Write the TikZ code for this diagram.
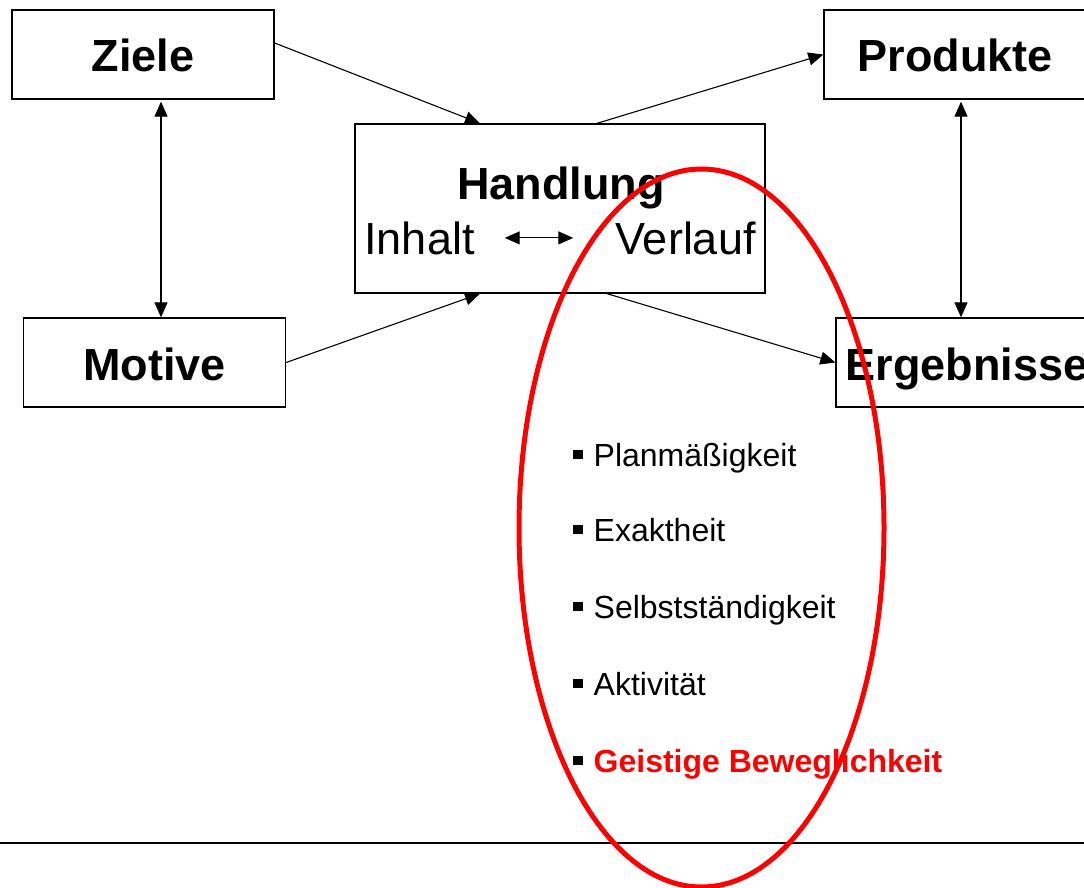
\documentclass[tikz,border=0pt]{standalone}
\usepackage{fontspec}
\setmainfont{Liberation Sans}
\usetikzlibrary{arrows.meta,calc}
\newcommand{\bigbold}{\fontsize{45pt}{54pt}\selectfont\bfseries}
\newcommand{\bigreg}{\fontsize{45pt}{54pt}\selectfont}
\newcommand{\bulfont}{\fontsize{32pt}{38pt}\selectfont}
\newcommand{\bul}{\raisebox{7pt}{\rule{9.5pt}{9.5pt}}\hspace{11pt}}
\definecolor{pptred}{RGB}{255,0,0}
\tikzset{
  box/.style={draw, line width=1.3pt, minimum width=262pt, minimum height=89pt,
    inner sep=0pt, text height=35pt, text depth=0pt, font=\bigbold},
  hbox/.style={draw, line width=1.3pt, minimum width=410pt, minimum height=169pt, inner sep=0pt},
  txt/.style={inner sep=0pt, anchor=base},
  item/.style={inner sep=0pt, anchor=base west, font=\bulfont},
  conn/.style={line width=1.1pt, -{Triangle[length=15pt,width=13pt]}},
  dconn/.style={line width=1.1pt, {Triangle[length=15pt,width=13pt]}-{Triangle[length=15pt,width=13pt]}},
}
\begin{document}
\begin{tikzpicture}[x=1pt,y=-1pt]
\useasboundingbox (0,0) rectangle (1084,888);
\fill[white] (0,0) rectangle (1084,888);
\clip (0,0) rectangle (1084,888);

\node[box] (ziele) at (143,54.5) {Ziele};
\node[box] (prod) at (955,54.5) {Produkte};
\node[box] (motive) at (154.5,362.5) {Motive};
\node[box] (erg) at (967,362.5) {Ergebnisse};

\node[hbox] (hand) at (560,208.5) {};
\node[txt, font=\bigbold] (htitle) at (561,199) {Handlung};
\node[txt, font=\bigreg] (inh) at (419.5,254) {Inhalt};
\node[txt, font=\bigreg] (ver) at (685.5,254) {Verlauf};
\draw[dconn] ([xshift=30pt]inh.east) -- ([xshift=-42pt]ver.west);

\draw[dconn] ([xshift=18pt,yshift=-2pt]ziele.south) -- ([xshift=18pt]ziele.south |- motive.north);
\draw[dconn] ([xshift=6pt,yshift=-2pt]prod.south) -- ([xshift=6pt]prod.south |- erg.north);

\draw[conn] ([yshift=11.5pt]ziele.east) -- ([xshift=-80pt]hand.north);
\draw[conn] (motive.east) -- ([xshift=-80pt]hand.south);
\draw[conn] ([xshift=37pt]hand.north) -- (prod.west);
\draw[conn] ([xshift=47pt]hand.south) -- (erg.west);

\node[item] (i1) at (573,466) {\bul Planmäßigkeit};
\node[item] (i2) at (573,541) {\bul Exaktheit};
\node[item] (i3) at (573,618) {\bul Selbstständigkeit};
\node[item] (i4) at (573,695) {\bul Aktivität};
\node[item, text=pptred] (i5) at (573,772) {{\color{black}\bul}\textbf{Geistige Beweglichkeit}};

\coordinate (ll) at (0,843);
\coordinate (lr) at (1084,843);
\draw[line width=1.5pt] (ll) -- (lr);

\draw[pptred, line width=5pt] (701.5,528) ellipse [x radius=182.5, y radius=359];
\end{tikzpicture}
\end{document}
